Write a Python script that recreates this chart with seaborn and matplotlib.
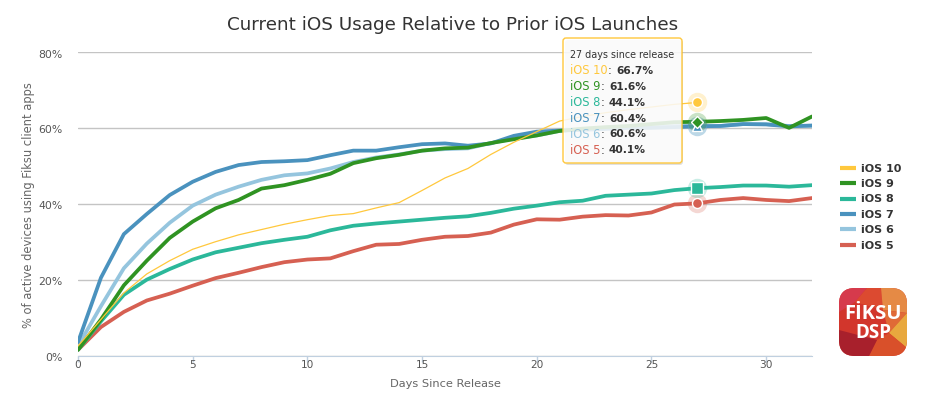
import pandas as pd
import seaborn as sns
import matplotlib.pyplot as plt
from matplotlib.lines import Line2D
from matplotlib.patches import FancyBboxPatch, Polygon
from matplotlib.transforms import IdentityTransform, ScaledTranslation

# values, % per day since release
ios_10 = [2.5, 9.5, 16.5, 21.5, 25, 28, 30, 31.8, 33.2, 34.6, 35.8, 36.9, 37.4, 38.9, 40.3, 43.5, 46.8,
          49.3, 53, 56.2, 59, 61.8, 63, 64, 64.8, 65.5, 66.2, 66.7]
ios_9 = [1.5, 9.5, 18.5, 25, 31, 35.3, 38.8, 41, 44, 44.9, 46.3, 47.9, 50.7, 52, 52.9, 54, 54.6,
         54.8, 56, 57, 58, 59.2, 59.8, 60.2, 60.5, 61, 61.5, 61.6, 61.8, 62.1, 62.6, 60, 63]
ios_8 = [1.5, 9, 16, 20, 22.8, 25.3, 27.2, 28.4, 29.6, 30.5, 31.3, 33, 34.2, 34.8, 35.3, 35.8, 36.3,
         36.7, 37.6, 38.7, 39.5, 40.4, 40.8, 42.1, 42.4, 42.7, 43.6, 44.1, 44.4, 44.8, 44.8, 44.5, 44.9]
ios_7 = [3.5, 20.5, 32, 37.3, 42.3, 45.8, 48.4, 50.2, 51, 51.2, 51.5, 52.8, 54, 54, 54.9, 55.7, 55.9,
         55.3, 55.9, 57.9, 59, 59.3, 59.5, 59.7, 60, 60, 60.2, 60.4, 60.5, 61, 60.9, 60.4, 60.6]
ios_6 = [2.5, 13, 23, 29.5, 35, 39.5, 42.4, 44.5, 46.3, 47.5, 48, 49.3, 51, 52.2, 53, 54, 54.4,
         54.6, 56, 57.2, 58, 59.2, 59.6, 60, 60.2, 60.3, 60.5, 60.6, 60.5, 61, 61, 60.5, 60.6]
ios_5 = [1.5, 7.5, 11.5, 14.5, 16.3, 18.4, 20.4, 21.8, 23.3, 24.6, 25.3, 25.6, 27.5, 29.2, 29.4, 30.5, 31.3,
         31.5, 32.4, 34.5, 35.9, 35.8, 36.6, 37, 36.9, 37.7, 39.8, 40.1, 41, 41.5, 41, 40.7, 41.5]

names = ['iOS 10', 'iOS 9', 'iOS 8', 'iOS 7', 'iOS 6', 'iOS 5']
values = [ios_10, ios_9, ios_8, ios_7, ios_6, ios_5]
colors = ['#ffc83d', '#2f9322', '#2bb89a', '#4a92be', '#95c5de', '#d66052']
markers = ['o', 'D', 's', '^', 'v', 'o']
y_ticks = [0, 20, 40, 60, 80]
x_ticks = [0, 5, 10, 15, 20, 25, 30]
hover_day = 27

rows = []
for name, vals in zip(names, values):
    for day, v in enumerate(vals):
        rows.append((name, day, v))
df = pd.DataFrame(rows, columns=['version', 'day', 'share'])

W, H = 925, 394
sns.set_style('white')
plt.rcParams['font.family'] = ['DejaVu Sans']
fig = plt.figure(figsize=(W / 100, H / 100), dpi=100)
ax = fig.add_axes([78 / W, 1 - 355.5 / H, (812 - 78) / W, (355.5 - 52) / H])

# iOS 5 goes first, highcharts stacks later series on top
widths = {n: (0.9 if n == 'iOS 10' else 2.7) for n in names}
sns.lineplot(data=df, x='day', y='share', hue='version', hue_order=names[::-1],
             palette=dict(zip(names, colors)), size='version', sizes=widths,
             estimator=None, legend=False, ax=ax, zorder=3)

ax.set_xlim(0, 32)
ax.set_ylim(0, 80)
ax.set_xticks(x_ticks)
ax.set_yticks(y_ticks)
ax.set_yticklabels([f'{t}%' for t in y_ticks])
ax.set_xlabel('')
ax.set_ylabel('')
ax.yaxis.grid(True, color='#c4c4c4', lw=1)
ax.set_axisbelow(True)
for s in ['top', 'right', 'left']:
    ax.spines[s].set_visible(False)
ax.spines['bottom'].set_color('#c0d0e0')
ax.tick_params(axis='x', length=4.5, width=1, color='#c0d0e0', labelcolor='#555555', labelsize=7.6, pad=-1, bottom=True)
ax.tick_params(axis='y', length=0, labelcolor='#555555', labelsize=7.8, pad=11)
# y labels sit a bit under their gridline in the original
for lab in ax.get_yticklabels():
    lab.set_transform(lab.get_transform() + ScaledTranslation(0, -1.5 / 100, fig.dpi_scale_trans))

# hover markers, same stacking as the lines
for name, vals, c, m in list(zip(names, values, colors, markers))[::-1]:
    v = vals[hover_day]
    ax.plot([hover_day], [v], 'o', ms=14, color=c, alpha=0.25, mew=0, zorder=4, clip_on=False)
    size = {'D': 6.5, 's': 8, '^': 7.5, 'v': 7.5}.get(m, 7.2)
    ax.plot([hover_day], [v], m, ms=size, color=c, mec='white', mew=1, zorder=5, clip_on=False)

fig.text(453 / W, 1 - 25 / H, 'Current iOS Usage Relative to Prior iOS Launches', ha='center', va='center',
         fontsize=13.2, color='#333333')
fig.text(445 / W, 1 - 384 / H, 'Days Since Release', ha='center', va='center', fontsize=8.2, color='#666666')
fig.text(29 / W, 1 - 205 / H, '% of active devices using Fiksu client apps', ha='center', va='center',
         rotation=90, fontsize=8.3, color='#666666')

# tooltip, see-through like the original
px = IdentityTransform()
shadow = FancyBboxPatch((565, H - 165), 118, 125, boxstyle='round,pad=0,rounding_size=3', fc='#000000',
                        ec='none', alpha=0.12, transform=px, zorder=5)
box = FancyBboxPatch((563, H - 163), 119, 125, boxstyle='round,pad=0,rounding_size=3', fc=(1, 1, 1, 0.86),
                     ec='#ffc83d', lw=1, transform=px, zorder=6)
fig.add_artist(shadow)
fig.add_artist(box)
fig.text(570 / W, 1 - 55 / H, f'{hover_day} days since release', fontsize=6.9, color='#333333', va='center', zorder=7)
renderer = fig.canvas.get_renderer()
for i, (name, vals, c) in enumerate(zip(names, values, colors)):
    y = 1 - (71 + i * 15.85) / H
    t = fig.text(570 / W, y, name, fontsize=8.3, color=c, va='center', zorder=7)
    right = t.get_window_extent(renderer).x1
    fig.text(right / W, y, ':', fontsize=8.3, color='#333333', va='center', zorder=7)
    fig.text((right + 8.5) / W, y, f'{vals[hover_day]}%', fontsize=7.7, fontweight='bold',
             color='#333333', va='center', zorder=7)

# legend
handles = [Line2D([], [], color=c, lw=3, solid_capstyle='butt') for c in colors]
fig.legend(handles, names, loc='upper left', bbox_to_anchor=(840 / W, 1 - 163.5 / H), frameon=False,
           labelcolor='#333333', handlelength=1.45, handletextpad=0.45, labelspacing=0.49,
           borderpad=0, borderaxespad=0, prop={'weight': 'bold', 'size': 8})

# logo
lg = fig.add_axes([839 / W, 1 - 356 / H, 68 / W, 68 / H])
lg.set_xlim(0, 68)
lg.set_ylim(68, 0)
lg.axis('off')
clip = FancyBboxPatch((0, 0), 68, 68, boxstyle='round,pad=0,rounding_size=16', fc='#d2362c', ec='none')
lg.add_patch(clip)
shards = [
    ([(0, 0), (28, 0), (16, 14), (0, 24)], '#d63a4c'),
    ([(28, 0), (42, 0), (44, 22), (16, 14)], '#dc4a30'),
    ([(42, 0), (68, 0), (68, 25), (44, 22)], '#e58a45'),
    ([(44, 22), (68, 25), (50, 45)], '#e06a36'),
    ([(68, 25), (68, 60), (50, 45)], '#e8a83e'),
    ([(50, 45), (68, 60), (68, 68), (30, 68), (38, 52)], '#d9502a'),
    ([(0, 42), (38, 52), (30, 68), (0, 68)], '#a8202c'),
]
for pts, c in shards:
    p = Polygon(pts, fc=c, ec='none')
    lg.add_patch(p)
    p.set_clip_path(clip)
lg.text(34, 26, 'FİKSU', color='#ffffff', fontsize=14.5, fontweight='bold', ha='center', va='center',
        family='Open Sans')
lg.text(34, 45, 'DSP', color='#ffffff', fontsize=13.5, fontweight='bold', ha='center', va='center',
        family='Open Sans')

fig.savefig('out.png', dpi=100)
